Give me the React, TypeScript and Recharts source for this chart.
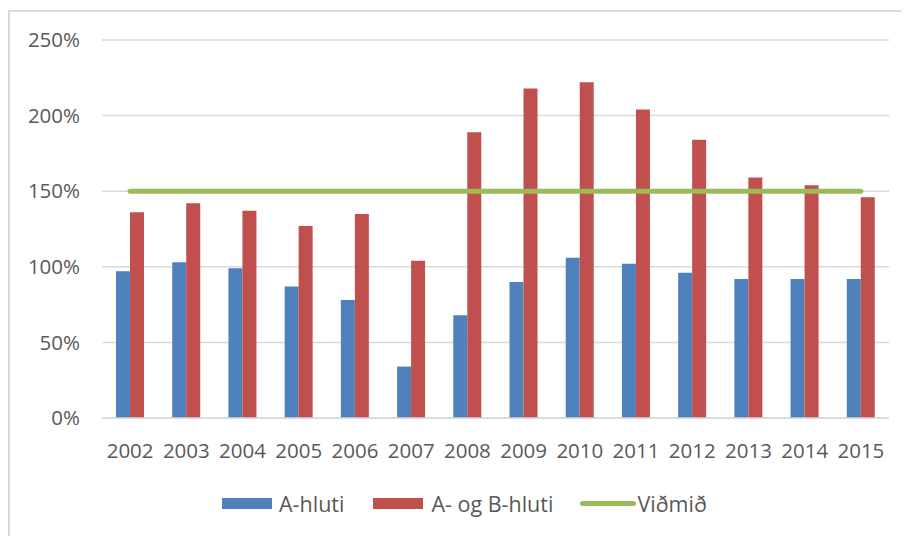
import { ComposedChart, Bar, Line, XAxis, YAxis, CartesianGrid, Legend } from 'recharts';

const ar = ['2002', '2003', '2004', '2005', '2006', '2007', '2008', '2009', '2010', '2011', '2012', '2013', '2014', '2015'];
const aHluti = [97, 103, 99, 87, 78, 34, 68, 90, 106, 102, 96, 92, 92, 92];
const abHluti = [136, 142, 137, 127, 135, 104, 189, 218, 222, 204, 184, 159, 154, 146];
const vidmid = [150, 150, 150, 150, 150, 150, 150, 150, 150, 150, 150, 150, 150, 150];
const yTicks = [0, 50, 100, 150, 200, 250];

const gogn = ar.map((a, i) => ({ ar: a, a: aHluti[i], ab: abHluti[i], v: vidmid[i] }));

const textColor = '#595959';
const font = '"Open Sans", sans-serif';

const Skyring = () => (
  <div style={{ display: 'flex', alignItems: 'center', paddingLeft: 212, height: 40, fontFamily: font, fontSize: 21.5, color: textColor }}>
    <span style={{ width: 50, height: 11, background: '#4f81bd', marginRight: 7 }} />
    <span style={{ marginRight: 29 }}>A-hluti</span>
    <span style={{ width: 50, height: 11, background: '#c0504d', marginRight: 8 }} />
    <span style={{ marginRight: 27 }}>A- og B-hluti</span>
    <span style={{ width: 56, height: 5, borderRadius: 3, background: '#9bbb59', marginRight: 1 }} />
    <span>Viðmið</span>
  </div>
);

export default function App() {
  return (
    <div style={{ width: 897, height: 524, marginTop: 2, borderTop: '2px solid #d9d9d9', borderLeft: '2px solid #d9d9d9', background: '#fff' }}>
      <ComposedChart width={897} height={524} data={gogn} margin={{ top: 28, right: 18, left: 0, bottom: 13 }} barGap={0}>
        <CartesianGrid vertical={false} stroke="#d9d9d9" strokeWidth={1.5} />
        <XAxis
          dataKey="ar"
          height={65}
          tickLine={false}
          tickSize={0}
          tickMargin={25}
          axisLine={{ stroke: '#d9d9d9', strokeWidth: 1.5 }}
          tick={{ fill: textColor, fontSize: 20.5, fontFamily: font }}
          interval={0}
        />
        <YAxis
          width={92}
          domain={[0, 250]}
          ticks={yTicks}
          tickFormatter={(v) => `${v}%`}
          axisLine={false}
          tickLine={false}
          tickSize={0}
          tickMargin={22}
          tick={{ fill: textColor, fontSize: 20.5, fontFamily: font }}
        />
        <Legend verticalAlign="bottom" content={<Skyring />} wrapperStyle={{ left: 0, width: 897 }} />
        <Bar dataKey="a" name="A-hluti" fill="#4f81bd" barSize={14} isAnimationActive={false} />
        <Bar dataKey="ab" name="A- og B-hluti" fill="#c0504d" barSize={14} isAnimationActive={false} />
        <Line dataKey="v" name="Viðmið" stroke="#9bbb59" strokeWidth={5} strokeLinecap="round" dot={false} activeDot={false} isAnimationActive={false} />
      </ComposedChart>
    </div>
  );
}
